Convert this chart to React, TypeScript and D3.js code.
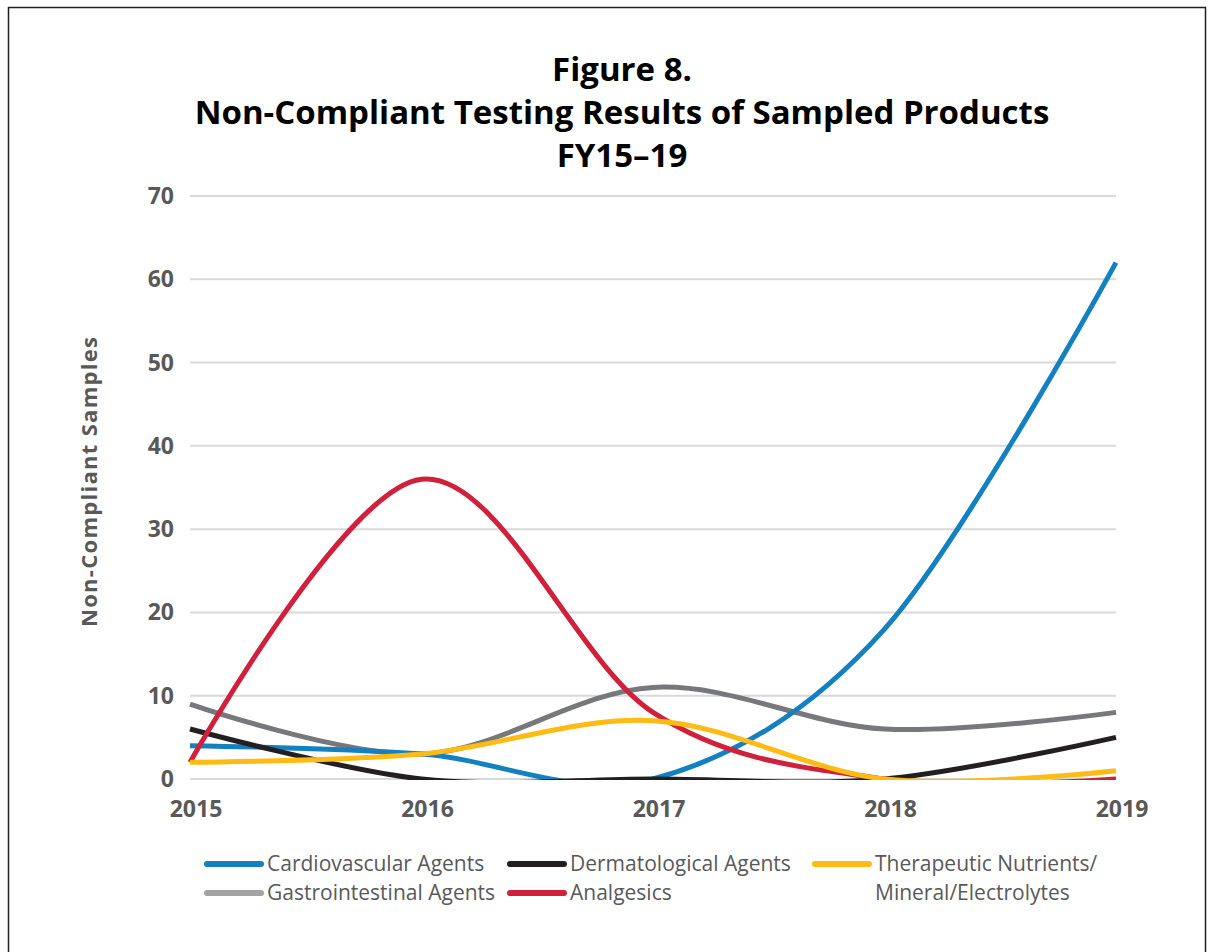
import * as d3 from "d3";

const years = [2015, 2016, 2017, 2018, 2019];
const cardiovascular = [4, 3, 0, 18, 62];
const dermatological = [6, 0, 0, 0, 5];
const therapeutic = [2, 3, 7, 0, 1];
const gastrointestinal = [9, 3, 11, 6, 8];
const analgesics = [2, 36, 8, 0, 0];
const yTicks = [0, 10, 20, 30, 40, 50, 60, 70];
const titleLines = ["Figure 8.", "Non-Compliant Testing Results of Sampled Products", "FY15–19"];

const series = [
  { name: "Gastrointestinal Agents", values: gastrointestinal, color: "#77787b", legend: "#a3a3a3" },
  { name: "Cardiovascular Agents", values: cardiovascular, color: "#1380c0", legend: "#1380c0" },
  { name: "Dermatological Agents", values: dermatological, color: "#231f20", legend: "#231f20" },
  { name: "Analgesics", values: analgesics, color: "#d1203c", legend: "#d1203c" },
  { name: "Therapeutic Nutrients/|Mineral/Electrolytes", values: therapeutic, color: "#fdbb13", legend: "#fdbb13" },
];

// legend order, row by row
const legendOrder = [
  "Cardiovascular Agents",
  "Dermatological Agents",
  "Therapeutic Nutrients/|Mineral/Electrolytes",
  "Gastrointestinal Agents",
  "Analgesics",
];

const W = 1212;
const H = 952;
const left = 190;
const right = 1116;
const top = 196;
const bottom = 779;

const App = () => {
  const x = d3.scaleLinear([2015, 2019], [left, right]);
  const y = d3.scaleLinear([0, 70], [bottom, top]);
  const line = d3
    .line<number>()
    .x((_, i) => x(years[i]))
    .y((d) => y(d))
    .curve(d3.curveCardinal.tension(0));

  const font = "'Open Sans', sans-serif";
  const legendCols = [207, 510, 815];
  const legendRows = [864, 893];

  return (
    <svg width={W} height={H} style={{ position: "absolute", left: 0, top: 0 }} fontFamily={font}>
      <rect x={0} y={0} width={W} height={H} fill="#fff" />
      <rect x={8.5} y={7.5} width={1197} height={960} fill="none" stroke="#231f20" strokeWidth={1.5} />
      <defs>
        <clipPath id="plot">
          <rect x={left - 10} y={top - 10} width={right - left + 20} height={bottom - top + 11} />
        </clipPath>
      </defs>

      {titleLines.map((t, i) => (
        <text key={t} x={622} y={81 + i * 43} textAnchor="middle" fontSize={33} fontWeight={700} fill="#000">
          {t}
        </text>
      ))}

      {yTicks.map((t) => (
        <g key={t}>
          <line x1={left} x2={right} y1={y(t)} y2={y(t)} stroke="#d9d9d9" strokeWidth={2} />
          <text x={174} y={y(t) + 8} textAnchor="end" fontSize={23} fontWeight={700} fill="#595959">
            {t}
          </text>
        </g>
      ))}

      {years.map((yr) => (
        <text key={yr} x={x(yr) + 6} y={817} textAnchor="middle" fontSize={23} fontWeight={700} fill="#595959">
          {yr}
        </text>
      ))}

      <text
        transform={`translate(97,482) rotate(-90)`}
        textAnchor="middle"
        fontSize={22}
        fontWeight={700}
        fill="#595959"
        textLength={290}
        lengthAdjust="spacing"
      >
        Non-Compliant Samples
      </text>

      <g clipPath="url(#plot)">
        {series.map((s) => (
          <path key={s.name} d={line(s.values) ?? ""} fill="none" stroke={s.color} strokeWidth={5} />
        ))}
      </g>

      {legendOrder.map((name, i) => {
        const s = series.find((d) => d.name === name)!;
        const lx = legendCols[i % 3];
        const ly = legendRows[Math.floor(i / 3)];
        const parts = name.split("|");
        return (
          <g key={name}>
            <line x1={lx} x2={lx + 54} y1={ly} y2={ly} stroke={s.legend} strokeWidth={6} strokeLinecap="round" />
            {parts.map((p, j) => (
              <text key={p} x={lx + 60} y={ly + 7 + j * 29} fontSize={21} fill="#595959">
                {p}
              </text>
            ))}
          </g>
        );
      })}
    </svg>
  );
};

export default App;
